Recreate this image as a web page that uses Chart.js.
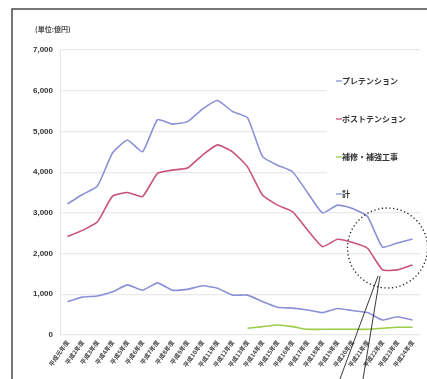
<!DOCTYPE html>
<html lang="ja">
<head>
    <meta charset="UTF-8">
    <title>PC工事 受注高推移</title>
    <script src="https://cdn.jsdelivr.net/npm/chart.js"></script>
    <style>
        html, body { margin: 0; padding: 0; background: #fff; }
        #wrap { width: 427px; height: 379px; position: relative; }
        * { font-family: 'Noto Sans CJK JP', 'Noto Sans', sans-serif; }
    </style>
</head>
<body>
<div id="wrap"><canvas id="pcChart" width="427" height="379"></canvas></div>
<script>
    // 年度ラベル（判読困難のため推定）
    const years = ['平成元年度','平成2年度','平成3年度','平成4年度','平成5年度','平成6年度','平成7年度','平成8年度',
        '平成9年度','平成10年度','平成11年度','平成12年度','平成13年度','平成14年度','平成15年度','平成16年度',
        '平成17年度','平成18年度','平成19年度','平成20年度','平成21年度','平成22年度','平成23年度','平成24年度'];

    const seriesNames = ['プレテンション', 'ポストテンション', '補修・補強工事', '計'];
    const seriesColors = ['#8c90d6', '#c9527c', '#9ccc4a', '#8c90d6'];

    const preTension = [820, 930, 960, 1060, 1230, 1100, 1280, 1100, 1120, 1210, 1150, 980,
        980, 820, 680, 660, 615, 550, 650, 600, 550, 370, 450, 370];
    const postTension = [2420, 2570, 2780, 3410, 3500, 3400, 3970, 4050, 4100, 4420, 4670, 4500,
        4130, 3440, 3190, 3030, 2580, 2170, 2350, 2270, 2130, 1600, 1600, 1720];
    const repair = [null, null, null, null, null, null, null, null, null, null, null, null,
        165, 205, 245, 205, 140, 140, 140, 140, 140, 165, 190, 190];
    const total = [3220, 3450, 3660, 4470, 4790, 4500, 5290, 5180, 5240, 5550, 5760, 5490,
        5340, 4380, 4170, 4010, 3500, 3000, 3190, 3110, 2910, 2160, 2260, 2360];

    const yTicks = [0, 1000, 2000, 3000, 4000, 5000, 6000, 7000];

    const decor = {
        id: 'decor',
        beforeDraw(chart) {
            const c = chart.ctx;
            c.save();
            c.fillStyle = '#fff';
            c.fillRect(0, 0, chart.width, chart.height);
            c.restore();
        },
        beforeDatasetsDraw(chart) {
            const c = chart.ctx;
            c.save();
            // 凡例の白地
            c.fillStyle = '#fff';
            c.fillRect(327, 58, 100, 148);
            c.restore();
        },
        afterDraw(chart) {
            const c = chart.ctx;
            c.save();
            // 枠
            c.strokeStyle = '#4a4a4a';
            c.lineWidth = 1.5;
            c.beginPath();
            c.moveTo(12, 379);
            c.lineTo(12, 9);
            c.lineTo(427, 9);
            c.stroke();

            // 単位
            c.fillStyle = '#444';
            c.font = 'bold 7px "Noto Sans CJK JP"';
            c.textBaseline = 'middle';
            c.fillText('(単位:億円)', 35, 29);

            // 凡例
            const ly = [81, 119, 157, 194];
            c.font = 'bold 8px "Noto Sans CJK JP"';
            seriesNames.forEach((name, i) => {
                c.strokeStyle = seriesColors[i];
                c.lineWidth = 1.3;
                c.beginPath();
                c.moveTo(336, ly[i]);
                c.lineTo(342, ly[i]);
                c.stroke();
                c.fillStyle = '#333';
                c.fillText(name, 342, ly[i]);
            });

            // 点線の円と引き出し線
            c.strokeStyle = '#222';
            c.lineWidth = 1.3;
            c.setLineDash([1.3, 2.5]);
            c.beginPath();
            c.arc(387.5, 248, 40, 0, Math.PI * 2);
            c.stroke();
            c.setLineDash([]);
            c.lineWidth = 0.9;
            c.beginPath();
            c.moveTo(378, 276);
            c.lineTo(340, 379);
            c.moveTo(380, 276);
            c.lineTo(363, 379);
            c.stroke();
            c.restore();
        }
    };

    const mk = (i, data) => ({
        label: seriesNames[i],
        data: data,
        borderColor: seriesColors[i],
        backgroundColor: seriesColors[i],
        borderWidth: 1.6,
        pointRadius: 0,
        tension: 0.15,
        spanGaps: false
    });

    new Chart(document.getElementById('pcChart').getContext('2d'), {
        type: 'line',
        data: {
            labels: years,
            datasets: [mk(0, preTension), mk(1, postTension), mk(2, repair), mk(3, total)]
        },
        options: {
            responsive: false,
            animation: false,
            layout: { padding: { top: 50, right: 7, left: 0, bottom: 0 } },
            plugins: {
                legend: { display: false },
                tooltip: { enabled: false }
            },
            scales: {
                x: {
                    offset: true,
                    grid: { display: false, drawTicks: false },
                    border: { display: false },
                    afterFit(scale) { scale.height = 44; },
                    ticks: {
                        autoSkip: false,
                        minRotation: 55,
                        maxRotation: 55,
                        padding: 4,
                        color: '#444',
                        font: { size: 6, weight: 'bold', family: 'Noto Sans CJK JP' }
                    }
                },
                y: {
                    min: 0,
                    max: 7000,
                    afterFit(scale) { scale.width = 60; },
                    afterBuildTicks(scale) { scale.ticks = yTicks.map(v => ({ value: v })); },
                    grid: { color: '#e9e9e9', lineWidth: 1.2, drawTicks: false },
                    border: { color: '#e6e6e6' },
                    ticks: {
                        padding: 7,
                        color: '#333',
                        font: { size: 8, weight: 'bold', family: 'Liberation Sans' },
                        callback: v => v.toLocaleString('en-US')
                    }
                }
            }
        },
        plugins: [decor]
    });
</script>
</body>
</html>
